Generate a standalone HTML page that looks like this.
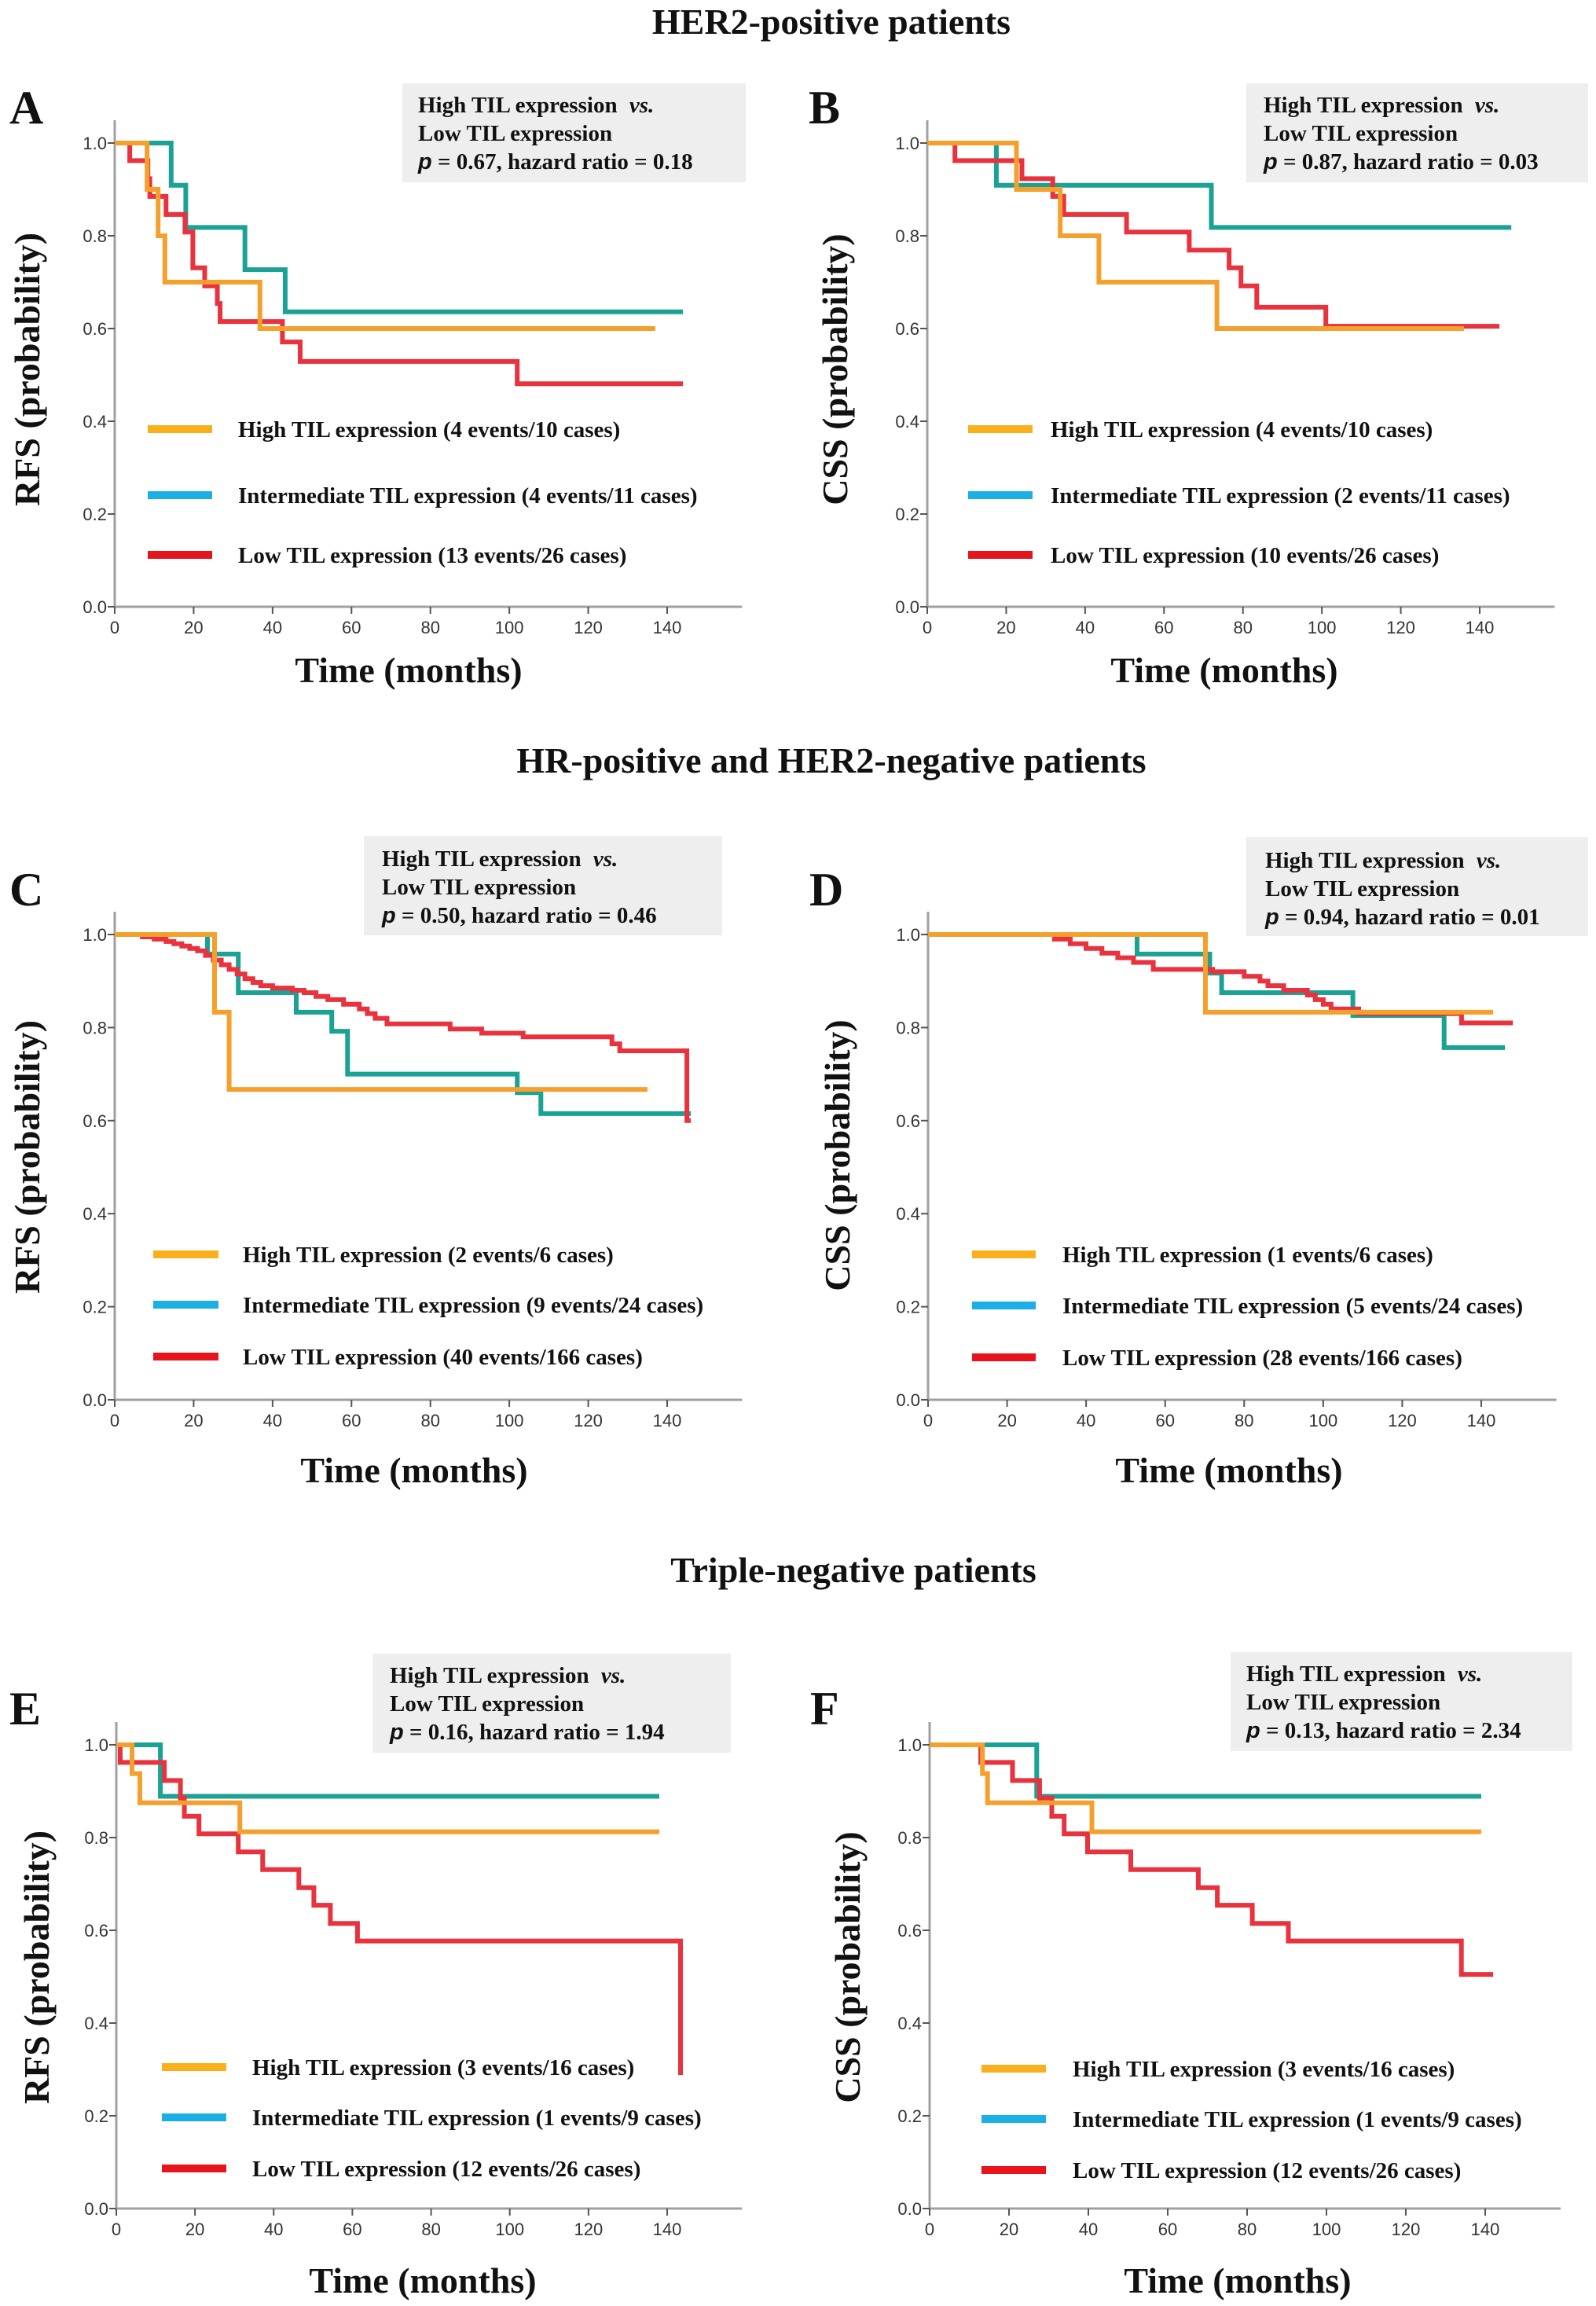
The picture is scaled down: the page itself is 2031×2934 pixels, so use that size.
<!DOCTYPE html>
<html><head><meta charset="utf-8"><style>
html,body{margin:0;padding:0;background:#fff;}
svg{display:block;}
.t{font-family:"Liberation Serif",serif;font-weight:bold;fill:#111;}
.tk{font-family:"Liberation Sans",sans-serif;font-size:22px;fill:#333;}
</style></head><body>
<svg id="fig" width="2031" height="2934" viewBox="0 0 2031 2934" xmlns="http://www.w3.org/2000/svg">
<text class="t" x="1058" y="43" font-size="46" text-anchor="middle">HER2-positive patients</text>
<text class="t" x="1058" y="983" font-size="46" text-anchor="middle">HR-positive and HER2-negative patients</text>
<text class="t" x="1086" y="2013" font-size="46" text-anchor="middle">Triple-negative patients</text>
</svg>
<script>
// ---- data: drop times (months), survival after drop, and last follow-up ----
const A_high_t=[8.2,11,12.7,36.8]; const A_high_s=[0.9,0.8,0.7,0.6]; const A_high_end=137;
const A_int_t=[14.3,18,33,43.2]; const A_int_s=[0.909,0.818,0.727,0.636]; const A_int_end=144;
const A_low_t=[3.8,8.4,8.9,13,17.8,19.8,22.8,26,26.7,42.5,47,102];
const A_low_s=[0.962,0.923,0.885,0.846,0.808,0.731,0.692,0.654,0.615,0.571,0.529,0.481]; const A_low_end=144;

const B_high_t=[22.6,33.7,43.5,73.4]; const B_high_s=[0.9,0.8,0.7,0.6]; const B_high_end=136;
const B_int_t=[17.5,72]; const B_int_s=[0.909,0.818]; const B_int_end=148;
const B_low_t=[7,24,31.8,34.6,50.5,66.4,76.5,79.5,83.5,101];
const B_low_s=[0.962,0.923,0.885,0.846,0.808,0.769,0.731,0.692,0.646,0.605]; const B_low_end=145;

const C_high_t=[25.3,29]; const C_high_s=[0.833,0.667]; const C_high_end=135;
const C_int_t=[23.5,31.3,46,55,59,102,108]; const C_int_s=[0.958,0.875,0.833,0.792,0.70,0.66,0.615]; const C_int_end=146;
const C_low_t=[7,10,13,15,17,19,21,23,25,27,29,31,33,35,37,40,45,48,51,54,58,62,64,66,69,85,93,103.5,126,128,145];
const C_low_s=[0.995,0.99,0.985,0.98,0.975,0.97,0.965,0.955,0.945,0.935,0.925,0.915,0.905,0.897,0.89,0.885,0.88,0.875,0.867,0.86,0.85,0.84,0.83,0.82,0.808,0.797,0.788,0.78,0.765,0.75,0.60]; const C_low_end=146;

const D_high_t=[70.2]; const D_high_s=[0.833]; const D_high_end=143;
const D_int_t=[52.9,71.3,74.3,107.5,130.6]; const D_int_s=[0.958,0.917,0.875,0.826,0.757]; const D_int_end=146;
const D_low_t=[32,36,40,44,48,52,57,72,80,84,86,90,96,98,100,102,109,135];
const D_low_s=[0.99,0.98,0.97,0.96,0.95,0.94,0.925,0.92,0.91,0.90,0.89,0.88,0.87,0.86,0.85,0.84,0.83,0.81]; const D_low_end=148;

const E_high_t=[4,6,31.4]; const E_high_s=[0.938,0.875,0.8125]; const E_high_end=138;
const E_int_t=[11.2]; const E_int_s=[0.889]; const E_int_end=138;
const E_low_t=[1,12.2,16.3,17.3,21,31,37.2,46.4,50.2,54.4,61.3,143.4];
const E_low_s=[0.962,0.923,0.885,0.846,0.808,0.769,0.731,0.692,0.654,0.615,0.577,0.288]; const E_low_end=143.4;

const F_high_t=[13.3,14.6,40.9]; const F_high_s=[0.938,0.875,0.8125]; const F_high_end=139;
const F_int_t=[27]; const F_int_s=[0.889]; const F_int_end=139;
const F_low_t=[12.9,20.9,27.7,30.8,33.9,39.8,50.7,67.7,72.5,81.3,90.4,134];
const F_low_s=[0.962,0.923,0.885,0.846,0.808,0.769,0.731,0.692,0.654,0.615,0.577,0.505]; const F_low_end=142;

const xTicks=[0,20,40,60,80,100,120,140];
const yTicks=[0,0.2,0.4,0.6,0.8,1.0];

const NS="http://www.w3.org/2000/svg";
const svg=document.getElementById('fig');
function mk(tag,attrs,parent){const e=document.createElementNS(NS,tag);for(const k in attrs)e.setAttribute(k,attrs[k]);(parent||svg).appendChild(e);return e;}

const COL={high:'#F5A02C',int:'#1BA294',low:'#E8323E'};
const LEG={high:'#F9B01C',int:'#1AB0E6',low:'#E8141C'};

const panels=[
 {id:'a',L:'A',lx:12,ly:157,x0:146,x140:849,y1:182,y0:772,ylab:'RFS (probability)',ylx:34,yly:470,
  box:[512,106,437,126],bx:532,bl:[143,179,215],p:'0.67',hr:'0.18',
  leg:{x1:188,x2:270,tx:303,ys:[546,630,706]},tl:868,tlx:520,
  labels:['High TIL expression (4 events/10 cases)','Intermediate TIL expression (4 events/11 cases)','Low TIL expression (13 events/26 cases)'],
  series:{int:[A_int_t,A_int_s,A_int_end],low:[A_low_t,A_low_s,A_low_end],high:[A_high_t,A_high_s,A_high_end]}},
 {id:'b',L:'B',lx:1029,ly:157,x0:1180,x140:1883,y1:182,y0:772,ylab:'CSS (probability)',ylx:1062,yly:470,
  box:[1586,106,435,126],bx:1608,bl:[143,179,215],p:'0.87',hr:'0.03',
  leg:{x1:1232,x2:1314,tx:1337,ys:[546,630,706]},tl:868,tlx:1558,
  labels:['High TIL expression (4 events/10 cases)','Intermediate TIL expression (2 events/11 cases)','Low TIL expression (10 events/26 cases)'],
  series:{int:[B_int_t,B_int_s,B_int_end],low:[B_low_t,B_low_s,B_low_end],high:[B_high_t,B_high_s,B_high_end]}},
 {id:'c',L:'C',lx:12,ly:1152,x0:146,x140:849,y1:1189,y0:1781,ylab:'RFS (probability)',ylx:34,yly:1472,
  box:[463,1064,456,126],bx:486,bl:[1102,1138,1174],p:'0.50',hr:'0.46',
  leg:{x1:195,x2:278,tx:309,ys:[1596,1660,1726]},tl:1886,tlx:527,
  labels:['High TIL expression (2 events/6 cases)','Intermediate TIL expression (9 events/24 cases)','Low TIL expression (40 events/166 cases)'],
  series:{int:[C_int_t,C_int_s,C_int_end],low:[C_low_t,C_low_s,C_low_end],high:[C_high_t,C_high_s,C_high_end]}},
 {id:'d',L:'D',lx:1030,ly:1152,x0:1181,x140:1885,y1:1189,y0:1781,ylab:'CSS (probability)',ylx:1065,yly:1470,
  box:[1586,1065,435,126],bx:1610,bl:[1104,1140,1176],p:'0.94',hr:'0.01',
  leg:{x1:1237,x2:1318,tx:1352,ys:[1596,1661,1727]},tl:1886,tlx:1564,
  labels:['High TIL expression (1 events/6 cases)','Intermediate TIL expression (5 events/24 cases)','Low TIL expression (28 events/166 cases)'],
  series:{int:[D_int_t,D_int_s,D_int_end],low:[D_low_t,D_low_s,D_low_end],high:[D_high_t,D_high_s,D_high_end]}},
 {id:'e',L:'E',lx:12,ly:2194,x0:148,x140:849,y1:2220,y0:2810,ylab:'RFS (probability)',ylx:46,yly:2503,
  box:[474,2104,456,126],bx:496,bl:[2141,2177,2213],p:'0.16',hr:'1.94',
  leg:{x1:206,x2:288,tx:321,ys:[2630,2694,2759]},tl:2917,tlx:538,
  labels:['High TIL expression (3 events/16 cases)','Intermediate TIL expression (1 events/9 cases)','Low TIL expression (12 events/26 cases)'],
  series:{int:[E_int_t,E_int_s,E_int_end],low:[E_low_t,E_low_s,E_low_end],high:[E_high_t,E_high_s,E_high_end]}},
 {id:'f',L:'F',lx:1031,ly:2194,x0:1183,x140:1890,y1:2220,y0:2810,ylab:'CSS (probability)',ylx:1078,yly:2503,
  box:[1566,2102,435,126],bx:1586,bl:[2139,2175,2211],p:'0.13',hr:'2.34',
  leg:{x1:1249,x2:1331,tx:1365,ys:[2632,2696,2761]},tl:2917,tlx:1575,
  labels:['High TIL expression (3 events/16 cases)','Intermediate TIL expression (1 events/9 cases)','Low TIL expression (12 events/26 cases)'],
  series:{int:[F_int_t,F_int_s,F_int_end],low:[F_low_t,F_low_s,F_low_end],high:[F_high_t,F_high_s,F_high_end]}}
];

panels.forEach(P=>{
  const g=mk('g',{});
  
  
  const xs=m=>P.x0+(P.x140-P.x0)*m/140;
  const ys=s=>P.y0-(P.y0-P.y1)*s;
  const lt=mk('text',{class:'t',x:P.lx,y:P.ly,'font-size':60},g); lt.textContent=P.L;
  
  
  const bx=mk('rect',{x:P.box[0],y:P.box[1],width:P.box[2],height:P.box[3],fill:'#EEEEEE'},g);
  
  
  const l1=mk('text',{class:'t',x:P.bx,y:P.bl[0],'font-size':29},g);
  l1.innerHTML='High TIL expression <tspan font-style="italic" dx="8">vs.</tspan>';
  const l2=mk('text',{class:'t',x:P.bx,y:P.bl[1],'font-size':29},g); l2.textContent='Low TIL expression';
  const l3=mk('text',{class:'t',x:P.bx,y:P.bl[2],'font-size':29},g);
  l3.innerHTML='<tspan font-style="italic" font-family="Liberation Sans">p</tspan> = '+P.p+', hazard ratio = '+P.hr;
  const xEnd=P.x0+(P.x140-P.x0)*159/140;
  const yTop=P.y1-29;
  const ax=mk('line',{x1:P.x0,y1:P.y0,x2:xEnd,y2:P.y0,stroke:'#A0A0A0','stroke-width':3},g);
  
  
  const ay=mk('line',{x1:P.x0,y1:yTop,x2:P.x0,y2:P.y0,stroke:'#A0A0A0','stroke-width':3},g);
  
  
  xTicks.forEach(v=>{
    mk('line',{x1:xs(v),y1:P.y0,x2:xs(v),y2:P.y0+9,stroke:'#555','stroke-width':2},g);
    const t=mk('text',{class:'tk',x:xs(v),y:P.y0+34,'text-anchor':'middle'},g); t.textContent=v;
    
    
  });
  yTicks.forEach(v=>{
    mk('line',{x1:P.x0-9,y1:ys(v),x2:P.x0,y2:ys(v),stroke:'#555','stroke-width':2},g);
    const t=mk('text',{class:'tk',x:P.x0-10,y:ys(v)+8,'text-anchor':'end'},g); t.textContent=v.toFixed(1);
    
    
  });
  const xt=mk('text',{class:'t',x:P.tlx,y:P.tl,'font-size':46,'text-anchor':'middle'},g); xt.textContent='Time (months)';
  
  
  const yt=mk('text',{class:'t',x:0,y:0,'font-size':46,'text-anchor':'middle',transform:'translate('+(P.ylx+16)+','+P.yly+') rotate(-90)'},g); yt.textContent=P.ylab;
  
  
  ['int','low','high'].forEach(k=>{
    const [T,S,end]=P.series[k];
    let d='M'+xs(0)+','+ys(1);
    T.forEach((t,i)=>{d+=' H'+xs(t).toFixed(1)+' V'+ys(S[i]).toFixed(1);});
    d+=' H'+xs(end).toFixed(1);
    const p=mk('path',{d:d,fill:'none',stroke:COL[k],'stroke-width':6,'stroke-linejoin':'miter'},g);
    
    
  });
  ['high','int','low'].forEach((k,i)=>{
    const y=P.leg.ys[i];
    const ln=mk('line',{x1:P.leg.x1,y1:y,x2:P.leg.x2,y2:y,stroke:LEG[k],'stroke-width':10},g);
    
    
    const tx=mk('text',{class:'t',x:P.leg.tx,y:y+10,'font-size':29},g); tx.textContent=P.labels[i];
    
    
  });
});
</script>
</body></html>
